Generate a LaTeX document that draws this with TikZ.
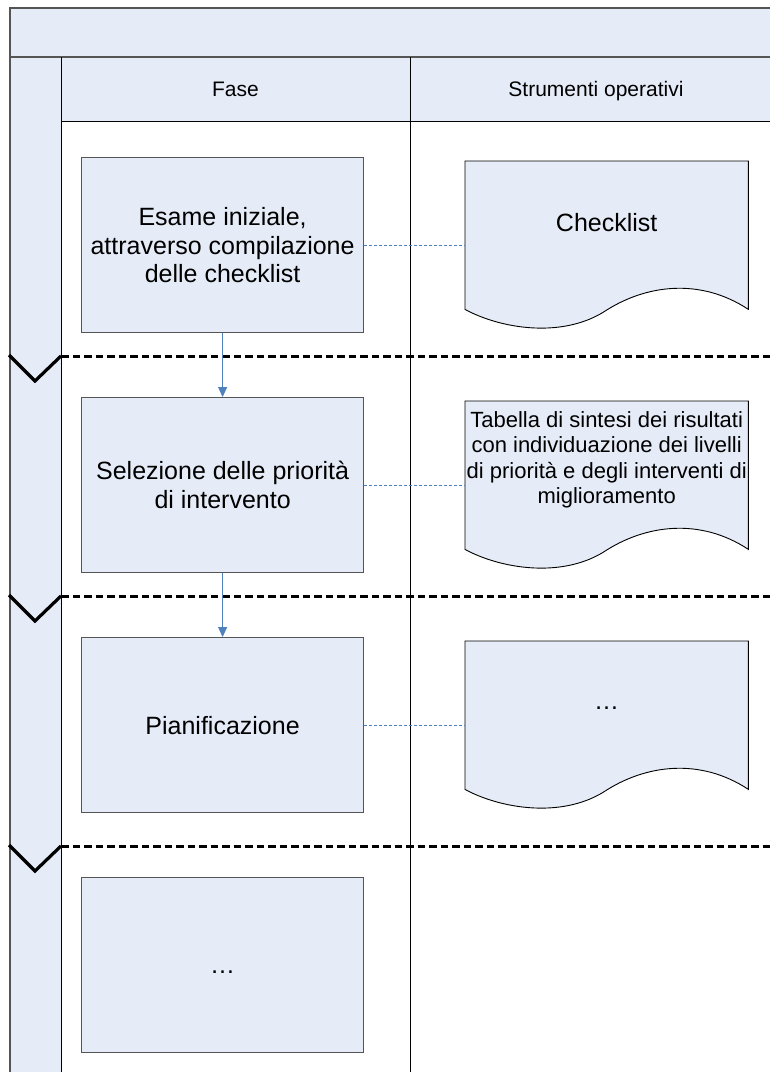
\documentclass[tikz,border=0pt]{standalone}
\usepackage{fontspec}
\setmainfont{Liberation Sans}
\usetikzlibrary{calc,arrows.meta}
\definecolor{lane}{RGB}{230,236,247}
\definecolor{edgegray}{RGB}{85,85,85}
\definecolor{conn}{RGB}{79,129,189}
\begin{document}
\begin{tikzpicture}[x=1pt,y=-1pt,
  phasebox/.style={draw=edgegray, line width=1.2pt, fill=lane, minimum width=282pt, minimum height=175pt,
    inner sep=0pt, align=center, font=\fontsize{25}{28.5}\selectfont, anchor=north west},
  docshape/.style={minimum width=283pt, minimum height=148pt, inner sep=0pt, anchor=north west},
  doctext/.style={align=center, inner sep=0pt},
  flow/.style={conn, line width=0.9pt, -{Triangle[length=10pt,width=9pt]}},
  assoc/.style={conn, line width=0.9pt, dash pattern=on 3pt off 2pt},
  sep/.style={black, line width=3pt, dash pattern=on 7.5pt off 4pt},
  chev/.style={black, line width=3.2pt, line join=miter},
  hdr/.style={font=\fontsize{21}{25}\selectfont, anchor=base, inner sep=0pt}]
\useasboundingbox (0,0) rectangle (770,1072);
% pool and lanes
\fill[lane] (10,8) rectangle (790,57);
\fill[lane] (10,57) rectangle (61,1090);
\fill[lane] (61,57) rectangle (790,121);
\draw[edgegray, line width=1.6pt] (790,8) -- (10,8) -- (10,1090);
\draw[edgegray, line width=1.6pt] (10,57) -- (790,57);
\draw[black, line width=1pt] (61,57) -- (61,1090);
\draw[black, line width=1pt] (410,57) -- (410,1090);
\draw[black, line width=1pt] (61,121) -- (790,121);
\node[hdr] (h1) at (235.5,96) {Fase};
\node[hdr] (h2) at (596,96) {Strumenti operativi};
% separators
\foreach \y in {356,596,846} {
  \draw[sep] (61,\y) -- (790,\y);
  \draw[chev] (9,\y-1) -- (35,\y+25) -- (61,\y);
}
% phase boxes
\node[phasebox] (b1) at (81,157) {Esame iniziale,\\attraverso compilazione\\delle checklist};
\node[phasebox] (b2) at (81,397) {Selezione delle priorità\\di intervento};
\node[phasebox] (b3) at (81,637) {Pianificazione};
\node[phasebox] (b4) at (81,877) {};
\node[font=\fontsize{25}{28}\selectfont, anchor=base, inner sep=0pt] (t4) at ($(b4.center)+(0,8)$) {…};
% documents
\foreach \n/\y in {d1/161,d2/401,d3/641} {
  \node[docshape] (\n) at (465,\y) {};
  \draw[black, line width=0.9pt, fill=lane]
    (\n.south west) -- (\n.north west) -- (\n.north east) -- (\n.south east)
    .. controls ($(\n.south west)+(235,-32)$) and ($(\n.south west)+(180,-25)$) .. ($(\n.south west)+(138,3)$)
    .. controls ($(\n.south west)+(95,29)$) and ($(\n.south west)+(35,19)$) .. (\n.south west) -- cycle;
}
\node[doctext, anchor=base, font=\fontsize{25}{28}\selectfont] (dt1) at ($(d1.center)+(0,-4)$) {Checklist};
\node[doctext, font=\fontsize{22}{25.5}\selectfont] (dt2) at ($(d2.center)+(0,-15.5)$)
  {Tabella di sintesi dei risultati\\con individuazione dei livelli\\di priorità e degli interventi di\\miglioramento};
\node[doctext, anchor=base, font=\fontsize{25}{28}\selectfont] (dt3) at ($(d3.center)+(0,-6)$) {…};
% connectors
\draw[flow] (b1.south) -- (b2.north);
\draw[flow] (b2.south) -- (b3.north);
\draw[assoc] (b1.east) -- (b1.east -| d1.west);
\draw[assoc] (b2.east) -- (b2.east -| d2.west);
\draw[assoc] (b3.east) -- (b3.east -| d3.west);
\end{tikzpicture}
\end{document}
